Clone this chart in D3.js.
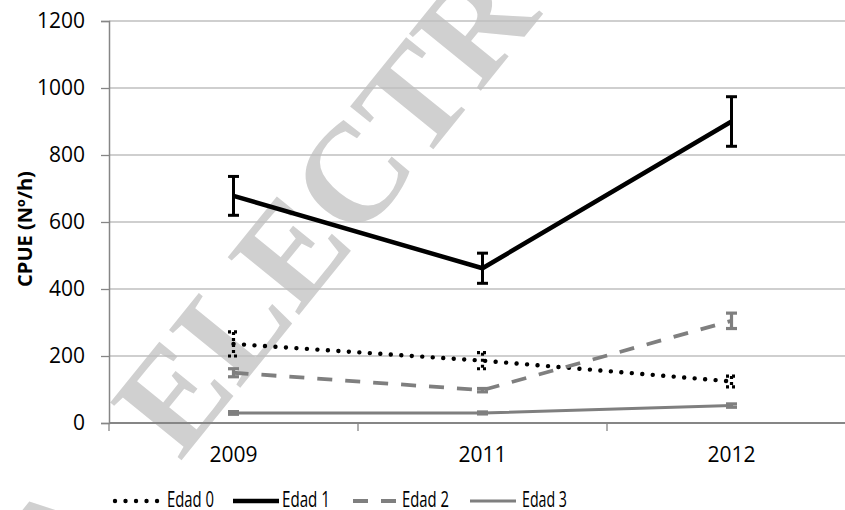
<!DOCTYPE html>
<html>
<head>
<meta charset="utf-8">
<script src="https://cdn.jsdelivr.net/npm/d3@7/dist/d3.min.js"></script>
<style>
  html, body { margin: 0; padding: 0; background: #fff; }
  svg { display: block; }
</style>
</head>
<body>
<svg id="chart" width="845" height="510"></svg>
<script>
// Sampling years
const years = ["2009", "2011", "2012"];

// Mean CPUE (individuals per hour) by age class
const edad0 = [236, 186, 124];
const edad1 = [678, 462, 900];
const edad2 = [150, 98, 305];
const edad3 = [30, 30, 52];

// Error bar half-widths
const err0 = [36, 24, 16];
const err1 = [58, 45, 74];
const err2 = [12, 5, 23];
const err3 = [4, 3, 5];

const seriesNames = ["Edad 0", "Edad 1", "Edad 2", "Edad 3"];
const yTicks = [0, 200, 400, 600, 800, 1000, 1200];

const series = [
  { name: seriesNames[0], values: edad0, errs: err0, color: "#000000", width: 4.4, dash: "0.01 10.5", cap: "round" },
  { name: seriesNames[1], values: edad1, errs: err1, color: "#000000", width: 4.5, dash: null, cap: "butt" },
  { name: seriesNames[2], values: edad2, errs: err2, color: "#7f7f7f", width: 3.8, dash: "15 13", cap: "butt" },
  { name: seriesNames[3], values: edad3, errs: err3, color: "#7f7f7f", width: 3, dash: null, cap: "butt" }
];

const svg = d3.select("#chart");
const plotLeft = 109, plotTop = 21, plotBottom = 423, plotRight = 856;

const x = d3.scaleBand().domain(years).range([plotLeft, plotRight]).paddingInner(0).paddingOuter(0);
const cx = d => x(d) + x.bandwidth() / 2;
const y = d3.scaleLinear().domain([0, 1200]).range([plotBottom, plotTop]);

// Faint diagonal watermark behind the plot
const wm = svg.append("g")
  .attr("transform", "translate(180,462) rotate(-51)")
  .attr("fill", "#d0d0d0")
  .style("font-family", "'Liberation Serif', 'DejaVu Serif', serif")
  .style("font-weight", "bold")
  .style("font-size", "140px");
wm.append("text").attr("x", 0).attr("y", 0).text("ELECTRÓNICA");
wm.append("text").attr("x", -85).attr("y", 0).attr("text-anchor", "end").text("A");

// Horizontal gridlines
svg.append("g")
  .selectAll("line")
  .data(yTicks.filter(t => t > 0))
  .join("line")
  .attr("x1", plotLeft).attr("x2", 845)
  .attr("y1", d => y(d)).attr("y2", d => y(d))
  .attr("stroke", "#bfbfbf").attr("stroke-width", 1.3);

// Y axis
const yAxis = d3.axisLeft(y).tickValues(yTicks).tickSize(8).tickPadding(16).tickFormat(d3.format("d"));
const gy = svg.append("g").attr("transform", `translate(${plotLeft},0)`).call(yAxis);
gy.select(".domain").attr("stroke", "#868686").attr("stroke-width", 1.5);
gy.selectAll(".tick line").attr("stroke", "#868686").attr("stroke-width", 1.3);
gy.selectAll(".tick text")
  .attr("fill", "#000")
  .style("font-family", "'Open Sans', sans-serif")
  .style("font-size", "21px");

// X axis (ticks on category boundaries)
svg.append("line")
  .attr("x1", plotLeft).attr("x2", 845).attr("y1", plotBottom).attr("y2", plotBottom)
  .attr("stroke", "#868686").attr("stroke-width", 2);
svg.append("g")
  .selectAll("line")
  .data(years)
  .join("line")
  .attr("x1", d => x(d)).attr("x2", d => x(d))
  .attr("y1", plotBottom).attr("y2", plotBottom + 8)
  .attr("stroke", "#868686").attr("stroke-width", 1.3);
svg.append("g")
  .selectAll("text")
  .data(years)
  .join("text")
  .attr("x", d => cx(d)).attr("y", 462)
  .attr("text-anchor", "middle")
  .style("font-family", "'Open Sans', sans-serif")
  .style("font-size", "21px")
  .text(d => d);

// Y axis title
svg.append("text")
  .attr("transform", "translate(32,229) rotate(-90)")
  .attr("text-anchor", "middle")
  .style("font-family", "'Open Sans', sans-serif")
  .style("font-weight", "bold")
  .style("font-size", "20px")
  .text("CPUE (Nº/h)");

// Series lines and error bars
const line = d3.line().x((d, i) => cx(years[i])).y(d => y(d));
series.forEach(s => {
  const g = svg.append("g");
  g.append("path")
    .attr("d", line(s.values))
    .attr("fill", "none")
    .attr("stroke", s.color)
    .attr("stroke-width", s.width)
    .attr("stroke-linecap", s.cap)
    .attr("stroke-linejoin", "round")
    .attr("stroke-dasharray", s.dash);

  const ebW = s.name === "Edad 1" ? 3 : 3.2;
  const ebDash = s.name === "Edad 0" ? "3 3" : null;
  s.values.forEach((v, i) => {
    const px = cx(years[i]);
    const y1 = y(v + s.errs[i]), y2 = y(v - s.errs[i]);
    const eb = g.append("g")
      .attr("stroke", s.color)
      .attr("stroke-width", ebW)
      .attr("stroke-dasharray", ebDash);
    eb.append("line").attr("x1", px).attr("x2", px).attr("y1", y1).attr("y2", y2);
    eb.append("line").attr("x1", px - 5.5).attr("x2", px + 5.5).attr("y1", y1).attr("y2", y1);
    eb.append("line").attr("x1", px - 5.5).attr("x2", px + 5.5).attr("y1", y2).attr("y2", y2);
  });
});

// Legend
const legendX = [115, 233, 353, 470];
const legendTextX = [167, 282, 402, 522];
const legendTextW = [47, 48, 47, 45];
const legend = svg.append("g");
series.forEach((s, i) => {
  const lx = legendX[i];
  legend.append("line")
    .attr("x1", lx).attr("x2", lx + 46)
    .attr("y1", 501).attr("y2", 501)
    .attr("stroke", s.color)
    .attr("stroke-width", s.width)
    .attr("stroke-linecap", s.cap)
    .attr("stroke-dasharray", s.dash);
  legend.append("text")
    .attr("x", legendTextX[i]).attr("y", 507)
    .attr("textLength", legendTextW[i])
    .attr("lengthAdjust", "spacingAndGlyphs")
    .style("font-family", "'Open Sans', sans-serif")
    .style("font-size", "21px")
    .text(s.name);
});
</script>
</body>
</html>
